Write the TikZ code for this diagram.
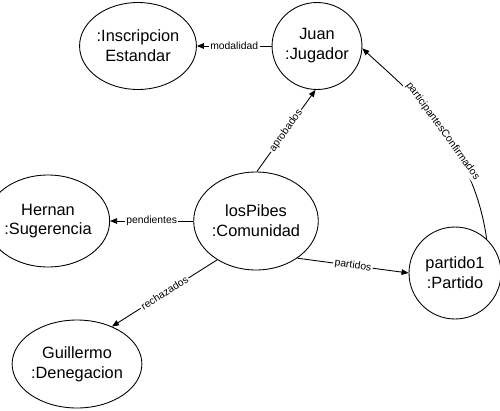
\documentclass[tikz,border=0pt]{standalone}
\usepackage{fontspec}
\setmainfont{Liberation Sans}
\usetikzlibrary{arrows.meta,shapes.geometric}
\begin{document}
\begin{tikzpicture}[x=0.02cm,y=0.02cm,
  obj/.style={ellipse,draw,line width=0.5pt,inner sep=0pt,align=center,font=\fontsize{9.3}{11.3}\selectfont},
  rel/.style={draw,line width=0.5pt,-{Triangle[length=4pt,width=3.2pt]}},
  lbl/.style={fill=white,inner sep=0.8pt,font=\fontsize{5.9}{7}\selectfont,sloped}]
\useasboundingbox[fill=white] (0,0) rectangle (500,410);
\node[obj,minimum width=1.80cm,minimum height=1.74cm] (insc) at (138,364) {:Inscripcion\\Estandar};
\node[obj,minimum width=1.76cm,minimum height=1.74cm] (juan) at (317,364) {Juan\\:Jugador};
\node[obj,minimum width=1.94cm,minimum height=1.96cm] (pibes) at (256,189) {losPibes\\:Comunidad};
\node[obj,minimum width=1.86cm,minimum height=1.84cm] (hernan) at (48,189) {Hernan\\:Sugerencia};
\node[obj,minimum width=1.90cm,minimum height=1.76cm] (guill) at (77,46) {Guillermo\\:Denegacion};
\node[obj,minimum width=1.84cm,minimum height=1.84cm] (partido) at (455,137) {partido1\\:Partido};
\draw[rel] (juan) -- node[lbl]{modalidad} (insc);
\draw[rel] (pibes.89) -- node[lbl]{aprobados} (juan.-92);
\draw[rel] (pibes) -- node[lbl]{pendientes} (hernan);
\draw[rel] (pibes.225) -- node[lbl]{rechazados} (guill.47);
\draw[rel] (pibes.-42) -- node[lbl]{partidos} (partido.180);
\draw[rel] (partido.47) .. controls +(98:2cm) and +(-43:1.2cm) .. node[lbl,pos=0.45]{participantesConfirmados} (juan.-3);
\end{tikzpicture}
\end{document}
